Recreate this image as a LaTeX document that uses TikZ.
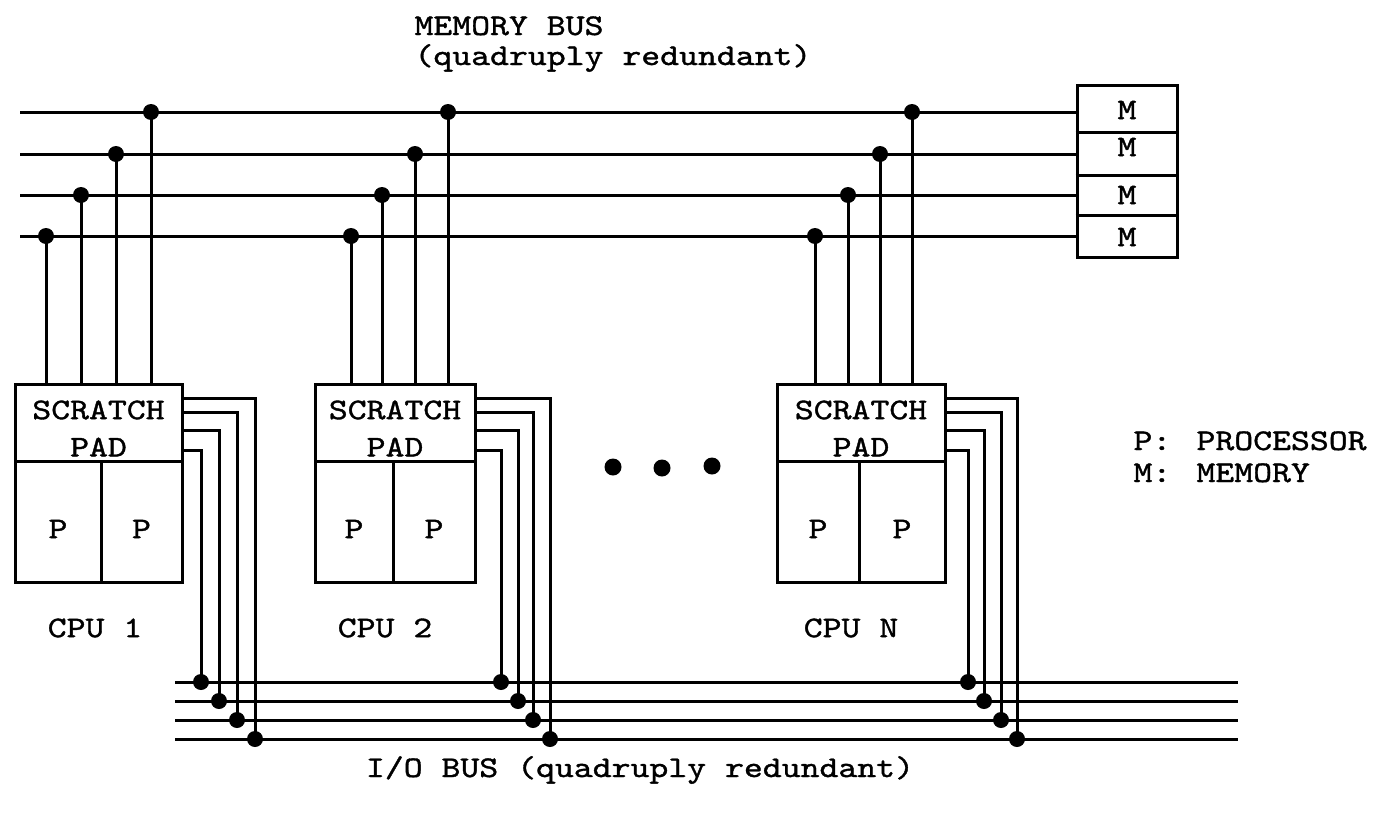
\documentclass[tikz,border=0pt]{standalone}
\usepackage{fontspec}
\setmonofont{lmmono10-regular.otf}[FakeStretch=1.2,FakeBold=1.2]
\begin{document}
\begin{tikzpicture}[x=1pt,y=-1pt,line width=3pt,
  lbl/.style={font=\fontsize{30}{36}\selectfont\ttfamily,inner sep=0pt},
  busdot/.style={circle,fill=black,draw=none,inner sep=0pt,minimum size=16pt},
  bigdot/.style={circle,fill=black,draw=none,inner sep=0pt,minimum size=17pt},
  boxn/.style={draw,line width=3pt,inner sep=0pt}]
\useasboundingbox (0,0) rectangle (1373,814);

% titles
\node[lbl,anchor=base west] (t1) at (413,35) {MEMORY BUS};
\node[lbl,anchor=base west] (t2) at (413,65) {(quadruply redundant)};
\node[lbl,anchor=base] (t3) at (640,777) {I/O BUS (quadruply redundant)};

% memory modules
\node[boxn,minimum width=100pt,minimum height=172pt] (mem) at (1127,171) {};
\foreach \yy in {132,175,215} \draw (mem.west |- 0,\yy) -- (mem.east |- 0,\yy);
\node[lbl] (m1) at (1127,110) {M};
\node[lbl] (m2) at (1127,147) {M};
\node[lbl] (m3) at (1127,195) {M};
\node[lbl] (m4) at (1127,237) {M};

% memory bus lines (1 top .. 4 bottom)
\foreach \k/\yy in {1/112,2/154,3/195,4/236} {
  \coordinate (mbL\k) at (20,\yy);
  \draw (mbL\k) -- (mbL\k -| mem.west);
}
% I/O bus lines (1 top .. 4 bottom)
\foreach \k/\yy in {1/682,2/701,3/720,4/739} {
  \coordinate (ioL\k) at (175,\yy);
  \coordinate (ioR\k) at (1238,\yy);
  \draw (ioL\k) -- (ioR\k);
}

% CPUs
\foreach \cn/\L/\R/\M/\tA/\tB/\tC/\tD/\vA/\vB/\vC/\vD/\lab/\lx in {
  1/15/182/101/46/81/116/151/255/237/219/201/CPU 1/95,
  2/315/475/393/351/382/415/448/550/533/518/501/CPU 2/385,
  3/777/945/859/815/848/880/912/1017/1001/984/968/CPU N/851} {
  \pgfmathsetmacro\W{\R-\L}
  \pgfmathsetmacro\Xc{(\L+\R)/2}
  \pgfmathsetmacro\WA{\M-\L}
  \pgfmathsetmacro\WB{\R-\M}
  \pgfmathsetmacro\XA{(\L+\M)/2}
  \pgfmathsetmacro\XB{(\M+\R)/2}
  \node[boxn,minimum width=\W pt,minimum height=77pt] (sp\cn) at (\Xc,422.5) {};
  \node[boxn,minimum width=\WA pt,minimum height=121pt] (pa\cn) at (\XA,521.5) {};
  \node[boxn,minimum width=\WB pt,minimum height=121pt] (pb\cn) at (\XB,521.5) {};
  \node[lbl] (sc\cn) at (\Xc,410) {SCRATCH};
  \node[lbl] (pd\cn) at (\Xc,447) {PAD};
  \node[lbl] (la\cn) at (\XA,529) {P};
  \node[lbl] (lb\cn) at (\XB,529) {P};
  \node[lbl] (cl\cn) at (\lx,628) {\lab};
  % memory taps
  \node[busdot] (ma\cn) at (\tA,236) {};
  \node[busdot] (mb\cn) at (\tB,195) {};
  \node[busdot] (mc\cn) at (\tC,154) {};
  \node[busdot] (md\cn) at (\tD,112) {};
  \foreach \q in {ma,mb,mc,md} \draw (\q\cn.center) -- (\q\cn.center |- sp\cn.north);
  % I/O taps
  \node[busdot] (ia\cn) at (\vA,739) {};
  \node[busdot] (ib\cn) at (\vB,720) {};
  \node[busdot] (ic\cn) at (\vC,701) {};
  \node[busdot] (id\cn) at (\vD,682) {};
  \draw (sp\cn.east |- 0,398) -| (ia\cn.center);
  \draw (sp\cn.east |- 0,412) -| (ib\cn.center);
  \draw (sp\cn.east |- 0,430) -| (ic\cn.center);
  \draw (sp\cn.east |- 0,450) -| (id\cn.center);
}

% ellipsis
\node[bigdot] (e1) at (613,467) {};
\node[bigdot] (e2) at (662,468) {};
\node[bigdot] (e3) at (712,466) {};

% legend
\node[lbl,anchor=base west] (lp) at (1132,450) {P:};
\node[lbl,anchor=base west] (lpt) at (1195,450) {PROCESSOR};
\node[lbl,anchor=base west] (lm) at (1132,482) {M:};
\node[lbl,anchor=base west] (lmt) at (1195,482) {MEMORY};
\end{tikzpicture}
\end{document}
